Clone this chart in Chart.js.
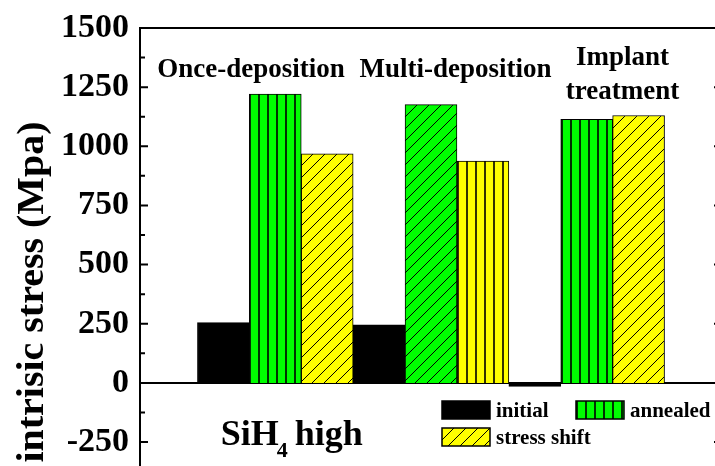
<!DOCTYPE html>
<html>
<head>
<meta charset="utf-8">
<script src="https://cdn.jsdelivr.net/npm/chart.js@4.4.0/dist/chart.umd.min.js"></script>
<style>
  html, body { margin: 0; padding: 0; overflow: hidden; background: #fff; width: 715px; height: 466px; }
  #wrap { width: 730px; height: 500px; }
</style>
</head>
<body>
<div id="wrap"><canvas id="c" width="730" height="500"></canvas></div>
<script>
// Film stress per deposition route (MPa)
const groups = ['Once-deposition', 'Multi-deposition', ['Implant', 'treatment']];
const seriesNames = ['initial', 'annealed', 'stress shift'];
const initialStress = [255, 245, -15];
const annealedStress = [1221, 1176, 1114];
const shiftStress = [968, 937, 1130];
const yTicks = [-250, 0, 250, 500, 750, 1000, 1250, 1500];

const FONT = '"Liberation Serif", "Times New Roman", serif';
const GREEN = '#00ff00';
const YELLOW = '#ffff00';

// Fill patterns: vertical stripes or "/" hatching on a solid base colour
function makePattern(kind, base) {
  const s = kind === 'vert' ? 9 : 12;
  const t = document.createElement('canvas');
  t.width = s; t.height = s;
  const g = t.getContext('2d');
  g.fillStyle = base;
  g.fillRect(0, 0, s, s);
  if (kind === 'vert') {
    g.fillStyle = 'rgba(0,0,0,0.8)';
    g.fillRect(0, 0, 2, s);
  } else {
    g.strokeStyle = '#000';
    g.lineWidth = 1;
    g.beginPath();
    g.moveTo(0, s); g.lineTo(s, 0);
    g.moveTo(-2, 2); g.lineTo(2, -2);
    g.moveTo(s - 2, s + 2); g.lineTo(s + 2, s - 2);
    g.stroke();
  }
  return t.getContext('2d').createPattern(t, 'repeat');
}

const annealedFill = ['vert', 'hatch', 'vert'].map(k => makePattern(k, GREEN));
const shiftFill = ['hatch', 'vert', 'hatch'].map(k => makePattern(k, YELLOW));
const legendFills = ['#000', makePattern('vert', GREEN), makePattern('hatch', YELLOW)];

const toPoints = vals => vals.map((v, i) => ({ x: i + 1, y: v }));

const decorations = {
  id: 'decorations',
  beforeDatasetsDraw(chart) {
    const { ctx, chartArea: a, scales: { y } } = chart;
    // anchor each bar's pattern to the bar's own corner
    chart.data.datasets.forEach((ds, di) => {
      const meta = chart.getDatasetMeta(di);
      meta.data.forEach((el, i) => {
        const p = Array.isArray(ds.backgroundColor) ? ds.backgroundColor[i] : null;
        if (p && p.setTransform) {
          p.setTransform(new DOMMatrix().translate(Math.round(el.x - el.width / 2), Math.round(Math.min(el.y, el.base))));
        }
      });
    });
    // zero line
    const y0 = y.getPixelForValue(0);
    ctx.save();
    ctx.strokeStyle = '#000';
    ctx.lineWidth = 2;
    ctx.beginPath();
    ctx.moveTo(a.left, y0); ctx.lineTo(a.right, y0);
    ctx.stroke();
    ctx.restore();
  },
  afterDraw(chart) {
    const { ctx, chartArea: a, scales: { x, y } } = chart;
    ctx.save();
    ctx.strokeStyle = '#000';
    ctx.fillStyle = '#000';
    ctx.lineWidth = 2;
    // frame
    ctx.strokeRect(a.left, a.top, a.right - a.left, a.bottom - a.top);
    // inward tick marks, major every 250 and minor in between
    for (let v = -375; v <= 1500; v += 125) {
      const py = y.getPixelForValue(v);
      const len = v % 250 === 0 ? 8 : 5;
      ctx.beginPath();
      ctx.moveTo(a.left, py); ctx.lineTo(a.left + len, py);
      ctx.moveTo(a.right, py); ctx.lineTo(a.right - len, py);
      ctx.stroke();
    }

    // group names
    ctx.font = 'bold 27px ' + FONT;
    ctx.textAlign = 'center';
    ctx.textBaseline = 'alphabetic';
    const anchors = [[0.844, 1292], [2.157, 1292], [3.23, 1344]];
    groups.forEach((name, i) => {
      const lines = Array.isArray(name) ? name : [name];
      const px = x.getPixelForValue(anchors[i][0]);
      const py = y.getPixelForValue(anchors[i][1]);
      lines.forEach((ln, k) => ctx.fillText(ln, px, py + k * 34));
    });

    // SiH4 high
    ctx.textAlign = 'left';
    let sx = x.getPixelForValue(0.649);
    const sy = y.getPixelForValue(-262);
    ctx.font = 'bold 36px ' + FONT;
    ctx.fillText('SiH', sx, sy);
    sx += ctx.measureText('SiH').width - 2;
    ctx.font = 'bold 22px ' + FONT;
    ctx.fillText('4', sx, sy + 12);
    sx += ctx.measureText('4').width + 7;
    ctx.font = 'bold 36px ' + FONT;
    ctx.fillText('high', sx, sy);

    // legend
    const boxes = [[442, 401], [576, 401], [442, 428]];
    ctx.font = 'bold 21px ' + FONT;
    seriesNames.forEach((name, i) => {
      const [bx, by] = boxes[i];
      const f = legendFills[i];
      if (f.setTransform) f.setTransform(new DOMMatrix().translate(bx, by));
      ctx.fillStyle = f;
      ctx.fillRect(bx, by, 48, 18);
      ctx.lineWidth = 1.5;
      ctx.strokeRect(bx, by, 48, 18);
      ctx.fillStyle = '#000';
      ctx.fillText(name, bx + 54, by + 15.5);
    });

    // y axis title
    ctx.translate(43, 292);
    ctx.rotate(-Math.PI / 2);
    ctx.scale(1.08, 1);
    ctx.textAlign = 'center';
    ctx.font = 'bold 37px ' + FONT;
    ctx.fillText('intrisic stress (Mpa)', 0, 0);
    ctx.restore();
  }
};

new Chart(document.getElementById('c'), {
  type: 'bar',
  data: {
    datasets: [
      { label: seriesNames[0], data: toPoints(initialStress), backgroundColor: '#000', borderColor: '#000', borderWidth: 1 },
      { label: seriesNames[1], data: toPoints(annealedStress), backgroundColor: annealedFill, borderColor: '#000', borderWidth: 1 },
      { label: seriesNames[2], data: toPoints(shiftStress), backgroundColor: shiftFill, borderColor: '#000', borderWidth: 1 }
    ]
  },
  options: {
    responsive: false,
    animation: false,
    devicePixelRatio: 1,
    layout: { padding: { left: 0, top: 28, right: 8, bottom: 28.4 } },
    datasets: { bar: { categoryPercentage: 1, barPercentage: 1, grouped: true } },
    plugins: { legend: { display: false }, tooltip: { enabled: false } },
    scales: {
      x: {
        type: 'linear',
        offset: false,
        min: 0.131,
        max: 3.869,
        display: false,
        grid: { offset: false },
        afterBuildTicks: s => { s.ticks = [1, 2, 3].map(v => ({ value: v })); }
      },
      y: {
        min: -375,
        max: 1500,
        afterBuildTicks: s => { s.ticks = yTicks.map(v => ({ value: v })); },
        afterFit: s => { s.width = 140; s.paddingTop = 0; s.paddingBottom = 0; },
        grid: { display: false, drawTicks: false },
        border: { display: false },
        ticks: {
          color: '#000',
          padding: 11,
          font: { family: FONT, weight: 'bold', size: 34 },
          callback: v => String(v)
        }
      }
    }
  },
  plugins: [decorations]
});
</script>
</body>
</html>
